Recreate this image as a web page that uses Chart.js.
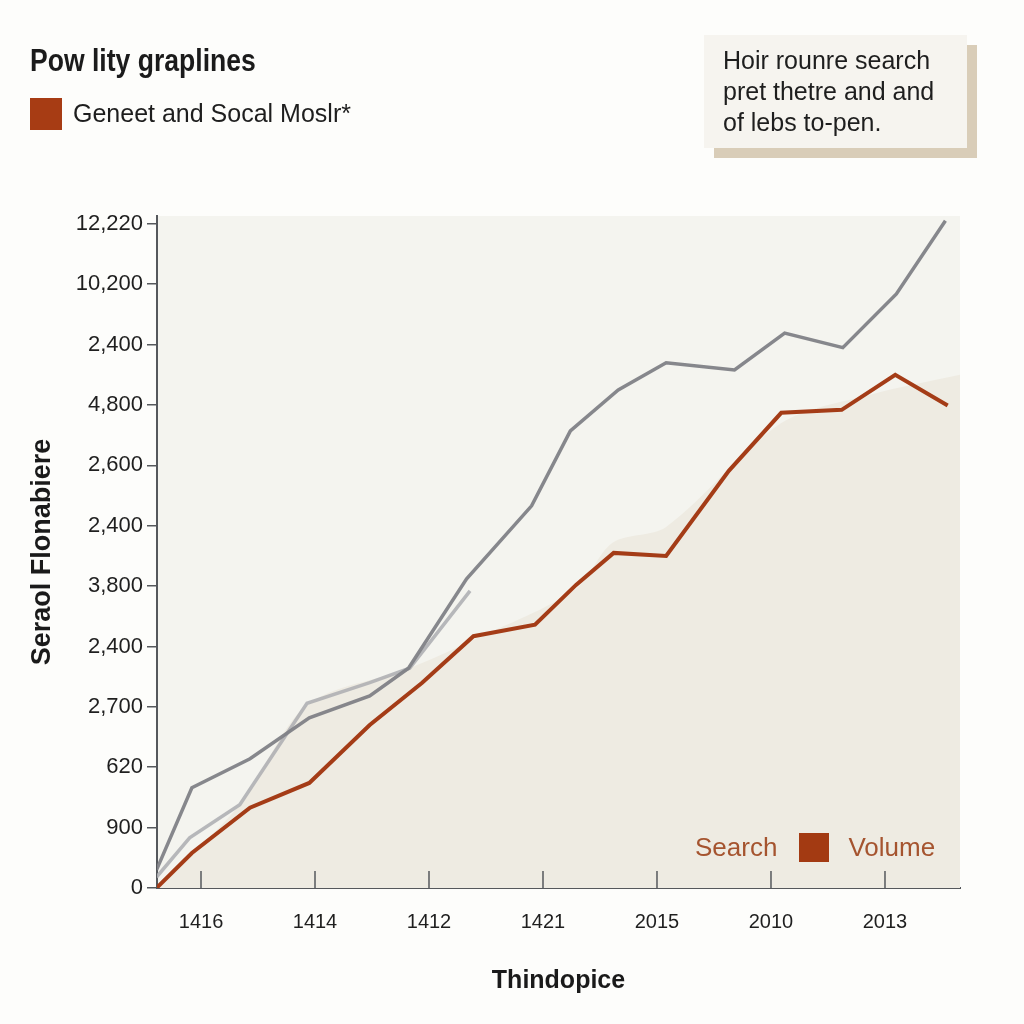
<!DOCTYPE html>
<html>
<head>
<meta charset="utf-8">
<script src="https://cdn.jsdelivr.net/npm/chart.js@4.4.0/dist/chart.umd.min.js"></script>
<style>
  html, body { margin: 0; padding: 0; background: #fdfdfb; }
  #wrap { position: relative; width: 1024px; height: 1024px; overflow: hidden; }
  #chart { position: absolute; left: 0; top: 0; }
  .title { position: absolute; left: 30px; top: 42px; font: bold 32px "Liberation Sans", Arial, sans-serif; color: #1b1b1b;
           transform: scaleX(0.83); transform-origin: left top; white-space: nowrap; }
  .legend { position: absolute; left: 30px; top: 97px; height: 33px; display: flex; align-items: center; }
  .legend .sq { width: 32px; height: 32px; background: #a73c14; margin-right: 11px; }
  .legend span { font: 25px "Liberation Sans", Arial, sans-serif; color: #1e1e1e; }
  .note { position: absolute; left: 704px; top: 35px; width: 263px; height: 113px; background: #f6f4ef;
          box-shadow: 10px 10px 0 #d9cdb8; box-sizing: border-box; padding: 10px 0 0 19px;
          font: 25px/31px "Liberation Sans", Arial, sans-serif; color: #1e1e1e; }
  .inlegend { position: absolute; left: 695px; top: 831px; display: flex; align-items: center; height: 32px; }
  .inlegend .t { font: 26px "Liberation Sans", Arial, sans-serif; color: #a5542f; }
  .inlegend .sq { width: 30px; height: 29px; background: #a33a12; margin: 0 19px 0 22px; }
</style>
</head>
<body>
<div id="wrap">
  <canvas id="chart" width="1024" height="1024"></canvas>
  <div class="title">Pow lity graplines</div>
  <div class="legend"><div class="sq"></div><span>Geneet and Socal Moslr*</span></div>
  <div class="note">Hoir rounre search<br>pret thetre and and<br>of lebs to-pen.</div>
  <div class="inlegend"><span class="t">Search</span><div class="sq"></div><span class="t">Volume</span></div>
</div>
<script>
// tick labels as printed on the picture
const xTickLabels = ['1416', '1414', '1412', '1421', '2015', '2010', '2013'];
const yTickLabels = ['0', '900', '620', '2,700', '2,400', '3,800', '2,400', '2,600', '4,800', '2,400', '10,200', '12,220'];

// series, x in tick units (1 = first label), y in tick steps (0 = bottom)
const darkX = [0.61, 0.92, 1.43, 1.95, 2.48, 2.82, 3.33, 3.90, 4.24, 4.66, 5.08, 5.68, 6.12, 6.63, 7.10, 7.53];
const darkY = [0.30, 1.66, 2.14, 2.82, 3.18, 3.64, 5.12, 6.33, 7.57, 8.25, 8.70, 8.58, 9.19, 8.95, 9.84, 11.05];

const lightX = [0.61, 0.90, 1.34, 1.93, 2.48, 2.83, 3.36];
const lightY = [0.18, 0.83, 1.38, 3.06, 3.40, 3.64, 4.92];

const rustX = [0.61, 0.92, 1.43, 1.95, 2.48, 2.94, 3.39, 3.93, 4.29, 4.62, 5.08, 5.63, 6.09, 6.62, 7.09, 7.55];
const rustY = [0, 0.58, 1.33, 1.74, 2.70, 3.40, 4.17, 4.36, 5.02, 5.55, 5.50, 6.91, 7.87, 7.92, 8.50, 7.99];

// shaded band behind the lines
const bandX = [0.61, 1.34, 1.93, 2.83, 3.39, 4.28, 4.61, 5.08, 6.09, 6.87, 7.66];
const bandY = [0, 1.38, 3.03, 3.64, 4.11, 4.94, 5.72, 5.98, 7.70, 8.17, 8.50];

function pts(xs, ys) {
    return xs.map((x, i) => ({ x: x, y: ys[i] }));
}

const axisColor = '#55585c';

// plot background
const plotBg = {
    id: 'plotBg',
    beforeDraw(chart) {
        const { ctx, chartArea } = chart;
        ctx.save();
        ctx.fillStyle = '#f4f4ef';
        ctx.fillRect(chartArea.left, chartArea.top, chartArea.right - chartArea.left, chartArea.bottom - chartArea.top);
        ctx.restore();
    }
};

// x tick marks pointing up into the plot
const innerTicks = {
    id: 'innerTicks',
    afterDatasetsDraw(chart) {
        const { ctx, chartArea } = chart;
        const xs = chart.scales.x;
        ctx.save();
        ctx.strokeStyle = axisColor;
        ctx.lineWidth = 1.5;
        xs.ticks.forEach((t, i) => {
            const px = xs.getPixelForTick(i);
            ctx.beginPath();
            ctx.moveTo(px, chartArea.bottom);
            ctx.lineTo(px, chartArea.bottom - 17);
            ctx.stroke();
        });
        ctx.restore();
    }
};

new Chart(document.getElementById('chart'), {
    type: 'line',
    data: {
        datasets: [
            {
                data: pts(rustX, rustY),
                borderColor: '#a43c17',
                borderWidth: 4,
                pointRadius: 0,
                tension: 0,
                order: 0
            },
            {
                data: pts(darkX, darkY),
                borderColor: 'rgba(128,129,134,0.95)',
                borderWidth: 3.5,
                pointRadius: 0,
                tension: 0,
                order: 1
            },
            {
                data: pts(lightX, lightY),
                borderColor: 'rgba(175,176,180,0.9)',
                borderWidth: 3.5,
                pointRadius: 0,
                tension: 0,
                order: 2
            },
            {
                data: pts(bandX, bandY),
                borderWidth: 0,
                borderColor: 'rgba(0,0,0,0)',
                backgroundColor: '#eeebe2',
                fill: 'origin',
                pointRadius: 0,
                tension: 0.3,
                order: 3
            }
        ]
    },
    options: {
        responsive: false,
        animation: false,
        layout: { padding: { left: 0, right: 64, top: 216, bottom: 0 } },
        plugins: {
            legend: { display: false },
            tooltip: { enabled: false }
        },
        scales: {
            x: {
                type: 'linear',
                min: 0.614,
                max: 7.658,
                afterBuildTicks: s => { s.ticks = xTickLabels.map((_, i) => ({ value: i + 1 })); },
                afterFit: s => { s.height = 136; },
                grid: { display: false, drawTicks: false },
                border: { display: true, color: axisColor, width: 2 },
                ticks: {
                    autoSkip: false,
                    maxRotation: 0,
                    padding: 22,
                    color: '#1f1f1f',
                    font: { family: '"Liberation Sans", Arial, sans-serif', size: 20 },
                    callback: (v, i) => xTickLabels[i]
                },
                title: {
                    display: true,
                    text: 'Thindopice',
                    color: '#1a1a1a',
                    font: { family: '"Liberation Sans", Arial, sans-serif', size: 25, weight: 'bold' },
                    padding: { top: 0, bottom: 28 }
                }
            },
            y: {
                min: 0,
                max: 11.13,
                afterBuildTicks: s => { s.ticks = yTickLabels.map((_, i) => ({ value: i })); },
                afterFit: s => { s.width = 157; },
                grid: { drawOnChartArea: false, drawTicks: true, tickLength: 10, color: axisColor, lineWidth: 1.5 },
                border: { display: true, color: axisColor, width: 2 },
                ticks: {
                    autoSkip: false,
                    padding: 4,
                    color: '#1f1f1f',
                    font: { family: '"Liberation Sans", Arial, sans-serif', size: 22 },
                    callback: (v, i) => yTickLabels[i]
                },
                title: {
                    display: true,
                    text: 'Seraol Flonabiere',
                    color: '#1a1a1a',
                    font: { family: '"Liberation Sans", Arial, sans-serif', size: 27, weight: 'bold' },
                    padding: { top: 26, bottom: 0 }
                }
            }
        }
    },
    plugins: [plotBg, innerTicks]
});
</script>
</body>
</html>
